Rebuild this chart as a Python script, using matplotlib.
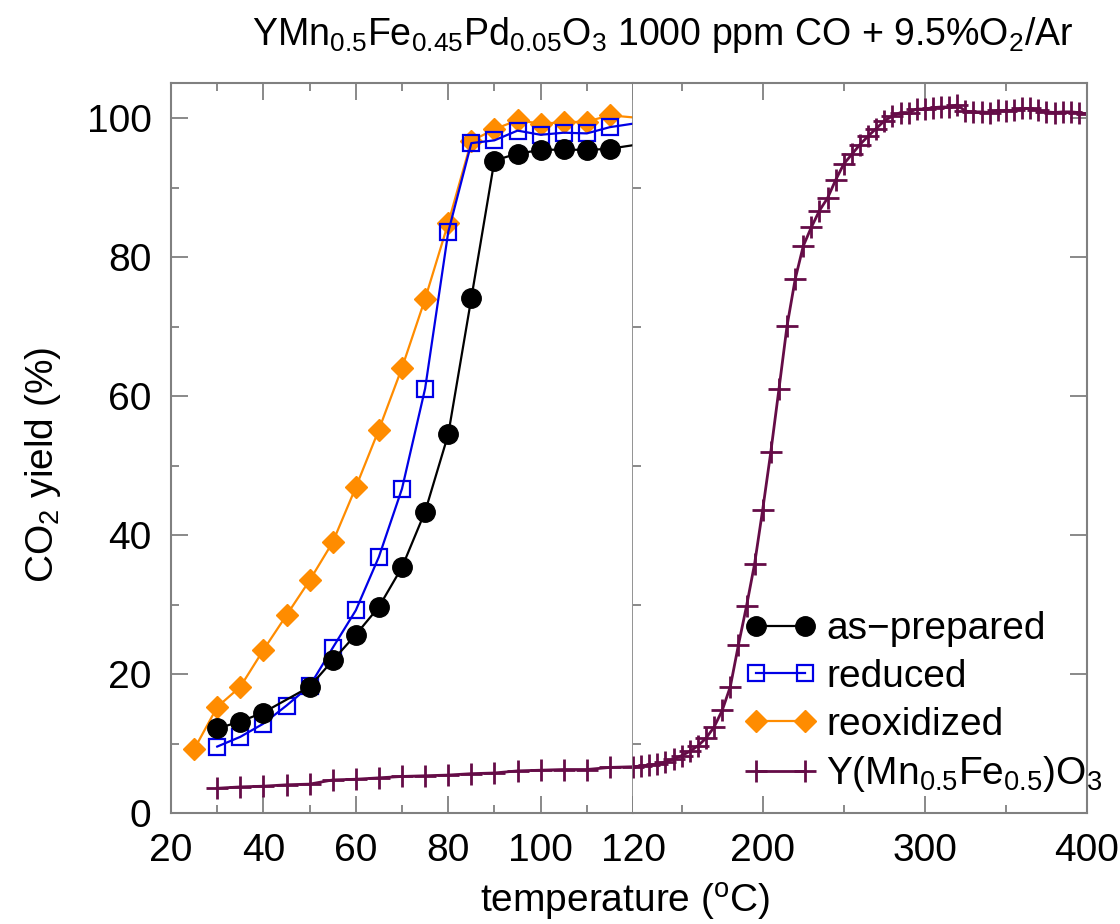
import matplotlib
matplotlib.use("Agg")
import matplotlib.pyplot as plt
from matplotlib.ticker import MultipleLocator, FixedLocator

plt.rcParams['font.family'] = ['Liberation Sans', 'DejaVu Sans']
plt.rcParams['mathtext.fontset'] = 'custom'
plt.rcParams['mathtext.rm'] = 'Liberation Sans'
plt.rcParams['mathtext.it'] = 'Liberation Sans'
plt.rcParams['mathtext.default'] = 'regular'

# ---- data -------------------------------------------------------------
t_asprep = [30, 35, 40, 50, 55, 60, 65, 70, 75, 80, 85, 90, 95, 100, 105, 110, 115, 125]
y_asprep = [12.2, 13.2, 14.5, 18.2, 22.0, 25.7, 29.7, 35.4, 43.4, 54.5, 74.1,
            93.9, 94.9, 95.4, 95.5, 95.4, 95.6, 96.6]

t_reduced = [30, 35, 40, 45, 50, 55, 60, 65, 70, 75, 80, 85, 90, 95, 100, 105, 110, 115, 125]
y_reduced = [9.6, 11.0, 12.9, 15.5, 18.3, 23.8, 29.2, 36.9, 46.7, 61.1, 83.6,
             96.4, 96.8, 98.2, 97.6, 97.9, 97.8, 98.7, 99.7]

t_reox = [25, 30, 35, 40, 45, 50, 55, 60, 65, 70, 75, 80, 85, 90, 95, 100, 105, 110, 115, 125]
y_reox = [9.2, 15.3, 18.2, 23.5, 28.5, 33.5, 39.0, 46.9, 55.2, 64.1, 74.0, 84.9,
          96.7, 98.4, 99.7, 99.2, 99.4, 99.5, 100.4, 99.8]

t_ymf = list(range(30, 405, 5))
y_ymf = [3.6, 3.8, 3.9, 4.1, 4.2, 4.8, 4.9, 5.1, 5.3, 5.4, 5.5, 5.7, 5.8, 6.1, 6.2,
         6.3, 6.3, 6.6, 6.7,                                   # 30 .. 120
         6.8, 6.9, 7.1, 7.4, 7.8, 8.3, 8.9, 9.7, 10.8, 12.4,   # 125 .. 170
         14.8, 18.2, 24.2, 29.8, 35.9, 43.7, 52.0, 61.0, 70.1, 76.8,  # 175 .. 220
         81.6, 84.3, 86.7, 88.5, 91.1, 93.4, 94.8, 96.2, 97.4, 98.5,  # 225 .. 270
         99.6, 100.3, 100.8, 100.8, 101.3, 101.3, 101.5, 101.6, 101.6, 101.9,  # 275 .. 320
         101.0, 100.9, 100.9, 100.8, 101.1, 101.0, 101.1, 101.4, 101.4, 101.1,  # 325 .. 370
         100.9, 100.8, 100.9, 100.9, 100.8, 100.6]              # 375 .. 400

labels = ['as\u2212prepared', 'reduced', 'reoxidized',
          'Y(Mn$_{0.5}$Fe$_{0.5}$)O$_3$']
title = 'YMn$_{0.5}$Fe$_{0.45}$Pd$_{0.05}$O$_3$ 1000 ppm CO + 9.5%O$_2$/Ar'

# ---- styles -----------------------------------------------------------
c_black = '#000000'
c_blue = '#0000e6'
c_orange = '#ff8c00'
c_purple = '#650c47'
c_frame = '#808080'

fs_tick = 28
fs_label = 28

fig = plt.figure(figsize=(11.2, 9.24), dpi=100)
ax1 = fig.add_axes([0.1527, 0.1198, 0.4125, 0.7900])
ax2 = fig.add_axes([0.5652, 0.1198, 0.4053, 0.7900])

kw_prep = dict(color=c_black, lw=1.6, marker='o', ms=14, mfc=c_black, mec=c_black)
kw_red = dict(color=c_blue, lw=1.6, marker='s', ms=12, mfc='none', mec=c_blue, mew=1.6)
kw_reox = dict(color=c_orange, lw=1.6, marker='D', ms=11, mfc=c_orange, mec=c_orange)
kw_ymf = dict(color=c_purple, lw=2.0, marker='+', ms=16, mew=2.0)

ax1.plot(t_ymf, y_ymf, **kw_ymf)
h_reox, = ax1.plot(t_reox, y_reox, **kw_reox)
h_red, = ax1.plot(t_reduced, y_reduced, **kw_red)
h_prep, = ax1.plot(t_asprep, y_asprep, **kw_prep)
h_ymf, = ax2.plot(t_ymf, y_ymf, **kw_ymf)

ax1.set_xlim(20, 120)
ax2.set_xlim(120, 400)
for ax in (ax1, ax2):
    ax.set_ylim(0, 105)
    for s in ax.spines.values():
        s.set_color(c_frame)
        s.set_linewidth(1.5)
    ax.tick_params(which='both', direction='in', color=c_frame, width=1.3,
                   labelsize=fs_tick, top=True)
    ax.tick_params(which='major', length=12)
    ax.tick_params(which='minor', length=6)
    ax.yaxis.set_major_locator(MultipleLocator(20))
    ax.yaxis.set_minor_locator(MultipleLocator(10))
    ax.tick_params(axis='x', pad=14)

ax1.xaxis.set_major_locator(MultipleLocator(20))
ax1.xaxis.set_minor_locator(FixedLocator([30, 50, 70, 90, 110]))
ax1.tick_params(axis='y', left=True, right=False, pad=14)
ax1.spines['right'].set_linewidth(1.2)

ax2.xaxis.set_major_locator(FixedLocator([200, 300, 400]))
ax2.xaxis.set_minor_locator(FixedLocator([150, 250, 350]))
ax2.spines['left'].set_visible(False)
ax2.tick_params(axis='y', left=False, right=True, labelleft=False)

fig.text(0.592, 0.962, title, ha='center', va='center', fontsize=27)
fig.text(0.558, 0.024, 'temperature ($^{\\rm o}$C)', ha='center', va='center',
         fontsize=fs_label)
fig.text(0.038, 0.497, 'CO$_2$ yield (%)', ha='center', va='center',
         rotation=90, fontsize=fs_label)

fig.legend([h_prep, h_red, h_reox, h_ymf], labels,
           loc='center left', bbox_to_anchor=(0.665, 0.2395),
           frameon=False, fontsize=fs_tick, numpoints=2,
           handlelength=1.85, handletextpad=0.25, labelspacing=0.3,
           borderpad=0, borderaxespad=0)

fig.savefig('out.png', dpi=100)
